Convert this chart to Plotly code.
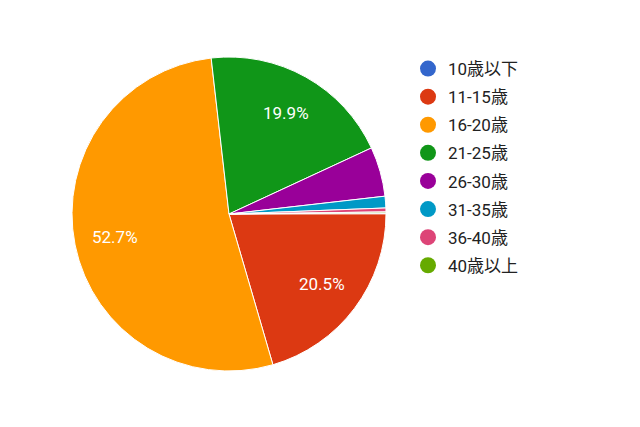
import math
import plotly.graph_objects as go

labels = ["10歳以下", "11-15歳", "16-20歳", "21-25歳", "26-30歳", "31-35歳", "36-40歳", "40歳以上"]
values = [0.1, 20.5, 52.7, 19.9, 5.1, 1.2, 0.4, 0.1]
colors = ["#3366cc", "#dc3912", "#ff9900", "#109618", "#990099", "#0099c6", "#dd4477", "#66aa00"]

total = sum(values)
W, H = 640, 427
cx, cy, r = 229, 214, 157
rotation = 89.6
label_frac = 0.74

fig = go.Figure()
fig.add_trace(go.Pie(
    labels=labels, values=values, sort=False, direction="clockwise", rotation=rotation,
    marker=dict(colors=colors, line=dict(color="white", width=1)),
    textinfo="none", hoverinfo="label+percent", showlegend=False,
    domain=dict(x=[(cx - r) / W, (cx + r) / W], y=[1 - (cy + r) / H, 1 - (cy - r) / H]),
))

# percentage labels placed along each slice's bisector
cum = 0.0
for v in values:
    frac = v / total
    mid = math.radians(rotation + (cum + v / 2) / total * 360)
    cum += v
    if frac < 0.1:
        continue
    px = cx + label_frac * r * math.sin(mid)
    py = cy - label_frac * r * math.cos(mid)
    fig.add_annotation(
        x=px / W, y=1 - py / H, xref="paper", yref="paper", showarrow=False,
        xanchor="center", yanchor="middle",
        text=f"{frac * 100:.1f}%",
        font=dict(color="white", size=17, family="Roboto, Liberation Sans, sans-serif"),
    )

for i, (lab, col) in enumerate(zip(labels, colors)):
    fig.add_trace(go.Scatter(
        x=[None], y=[None], mode="markers", name=lab, legendgroup=str(i),
        marker=dict(symbol="circle", size=16, color=col),
    ))

fig.update_layout(
    width=W, height=H, margin=dict(l=0, r=0, t=0, b=0),
    paper_bgcolor="white", plot_bgcolor="white",
    xaxis=dict(visible=False), yaxis=dict(visible=False),
    showlegend=True,
    legend=dict(x=408 / W, y=1 - 51 / H, xanchor="left", yanchor="top",
                font=dict(size=17, color="#222222", family="Roboto, Noto Sans CJK JP, sans-serif"),
                tracegroupgap=3, itemsizing="trace"),
)

fig.write_html("out.html")
